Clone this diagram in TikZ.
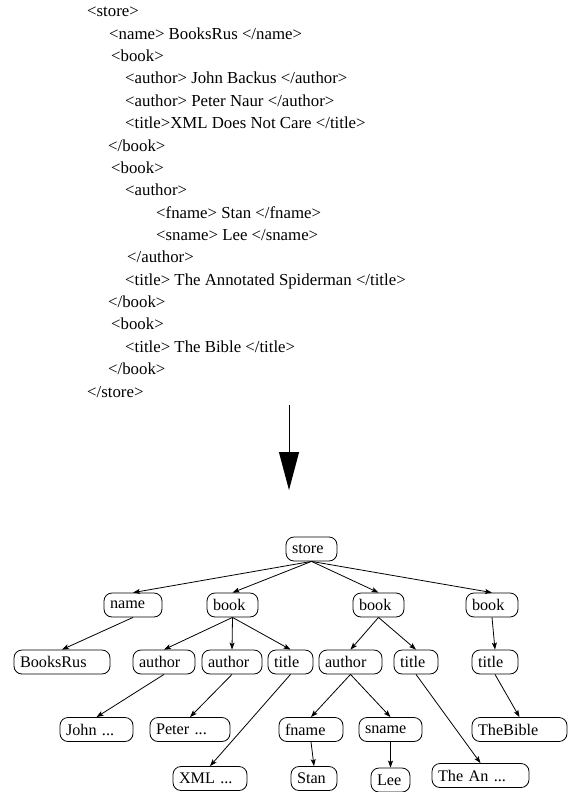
\documentclass[tikz,border=0pt]{standalone}
\usepackage{fontspec}
\setmainfont{Liberation Serif}
\usetikzlibrary{arrows.meta}
\begin{document}
\begin{tikzpicture}[x=1pt,y=-1pt,
  xmlline/.style={anchor=base west,inner sep=0pt,font=\fontsize{16.8}{20}\selectfont},
  tn/.style={draw,line width=0.8pt,rounded corners=8pt,minimum height=24pt,inner xsep=6pt,inner ysep=0pt,align=left,font=\fontsize{16.2}{19}\selectfont},
  edge/.style={line width=0.8pt,-{Stealth[length=7pt,width=5pt,inset=1.5pt]}}]
\useasboundingbox (0,0) rectangle (573,792);
% XML text
\node[xmlline] (l0) at (87,17) {<store>};
\node[xmlline] (l1) at (109,39.4) {<name> BooksRus </name>};
\node[xmlline] (l2) at (111,61.7) {<book>};
\node[xmlline] (l3) at (125,84) {<author> John Backus </author>};
\node[xmlline] (l4) at (125,106.4) {<author> Peter Naur </author>};
\node[xmlline] (l5) at (125,128.8) {<title>XML Does Not Care </title>};
\node[xmlline] (l6) at (108,151.1) {</book>};
\node[xmlline] (l7) at (111,173.5) {<book>};
\node[xmlline] (l8) at (125,195.8) {<author>};
\node[xmlline] (l9) at (156,218.2) {<fname> Stan </fname>};
\node[xmlline] (l10) at (156,240.5) {<sname> Lee </sname>};
\node[xmlline] (l11) at (127,262.9) {</author>};
\node[xmlline] (l12) at (125,285.2) {<title> The Annotated Spiderman </title>};
\node[xmlline] (l13) at (108,307.6) {</book>};
\node[xmlline] (l14) at (111,329.9) {<book>};
\node[xmlline] (l15) at (125,352.3) {<title> The Bible </title>};
\node[xmlline] (l16) at (108,374.6) {</book>};
\node[xmlline] (l17) at (87,397) {</store>};
% big arrow
\coordinate (bs) at (289,405);
\coordinate (be) at (289,490);
\draw[line width=1pt,-{Triangle[length=38pt,width=20pt]}] (bs) -- (be);
% tree
\node[tn,text width=39pt] (store) at (311.5,549) {store};
\node[tn,text width=46pt] (name) at (133,605) {name};
\node[tn,text width=39pt] (book1) at (232.5,605) {book};
\node[tn,text width=39pt] (book2) at (378.5,605) {book};
\node[tn,text width=40pt] (book3) at (492,605) {book};
\node[tn,text width=84pt] (booksrus) at (62,662) {BooksRus};
\node[tn,text width=50pt] (author1) at (164,662) {author};
\node[tn,text width=48pt] (author2) at (232,662) {author};
\node[tn,text width=33pt] (title1) at (290.5,662) {title};
\node[tn,text width=51pt] (author3) at (350.5,662) {author};
\node[tn,text width=32pt] (title2) at (416,662) {title};
\node[tn,text width=34pt] (title3) at (495,662) {title};
\node[tn,text width=61pt] (john) at (96.5,729.5) {John ...};
\node[tn,text width=68pt] (peter) at (190,729.5) {Peter ...};
\node[tn,text width=52pt] (fname) at (311,729.5) {fname};
\node[tn,text width=51pt] (sname) at (390.5,729.5) {sname};
\node[tn,text width=83pt] (thebible) at (519.5,729.5) {TheBible};
\node[tn,text width=62pt] (xml) at (210,778.5) {XML ...};
\node[tn,text width=34pt] (stan) at (314,778.5) {Stan};
\node[tn,text width=27pt] (lee) at (390.5,780) {Lee};
\node[tn,text width=85pt] (thean) at (480.5,775.5) {The An ...};
% edges
\draw[edge] (store.south) -- (name.north);
\draw[edge] (store.south) -- (book1.north);
\draw[edge] (store.south) -- (book2.north);
\draw[edge] (store.south) -- (book3.north);
\draw[edge] (name.south) -- (booksrus.north);
\draw[edge] (book1.south) -- (author1.north);
\draw[edge] (book1.south) -- (author2.north);
\draw[edge] (book1.south) -- (title1.north);
\draw[edge] (book2.south) -- (author3.north);
\draw[edge] (book2.south) -- (title2.north);
\draw[edge] (book3.south) -- (title3.north);
\draw[edge] (author1.south) -- (john.north);
\draw[edge] (author2.south) -- (peter.north);
\draw[edge] (title1.south) -- (xml.north);
\draw[edge] (author3.south) -- (fname.north);
\draw[edge] (author3.south) -- (sname.north);
\draw[edge] (title2.south) -- (thean.north);
\draw[edge] (title3.south) -- (thebible.north);
\draw[edge] (fname.south) -- (stan.north);
\draw[edge] (sname.south) -- (lee.north);
\end{tikzpicture}
\end{document}
